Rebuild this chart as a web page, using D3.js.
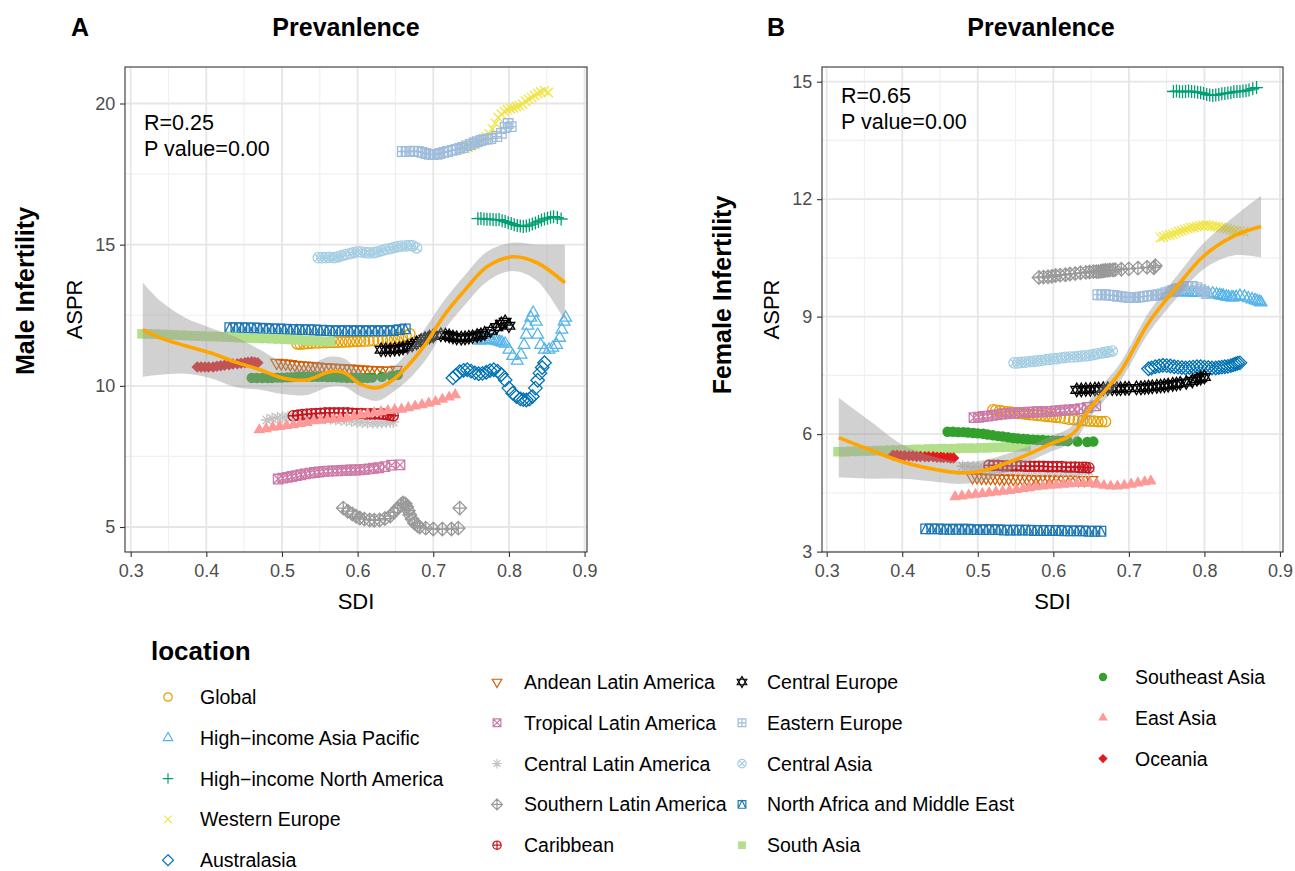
<!DOCTYPE html>
<html>
<head>
<meta charset="utf-8">
<script src="https://cdn.jsdelivr.net/npm/d3@7"></script>
<style>
  body { margin: 0; background: #fff; }
  text { font-family: "Liberation Sans", Arial, Helvetica, sans-serif; }
</style>
</head>
<body>
<svg id="chart" width="1295" height="871"></svg>
<script>
// ---- locations (legend order), colours, point shapes (R pch 1..18)
const locations = ["Global", "High\u2212income Asia Pacific", "High\u2212income North America", "Western Europe", "Australasia",
  "Andean Latin America", "Tropical Latin America", "Central Latin America", "Southern Latin America", "Caribbean",
  "Central Europe", "Eastern Europe", "Central Asia", "North Africa and Middle East", "South Asia",
  "Southeast Asia", "East Asia", "Oceania"];
const locColors = ["#E69F00", "#56B4E9", "#009E73", "#F0E442", "#0072B2",
  "#D55E00", "#CC79A7", "#C4C4C4", "#999999", "#C8141E",
  "#000000", "#9FBCDB", "#A6CEE3", "#1F78B4", "#B2DF8A",
  "#33A02C", "#FB9A99", "#E31A1C"];
const locShapes = [1, 2, 3, 4, 5, 6, 7, 8, 9, 10, 11, 12, 13, 14, 15, 16, 17, 18];

// ---- per location: SDI, male ASPR, female ASPR (one value per year)
const globalSDI = [0.520, 0.524, 0.529, 0.534, 0.539, 0.544, 0.549, 0.554, 0.559, 0.564, 0.569, 0.574, 0.579, 0.584, 0.589, 0.594, 0.599, 0.604, 0.609, 0.615, 0.621, 0.627, 0.633, 0.639, 0.644, 0.649, 0.654, 0.659, 0.664, 0.669];
const globalMale = [11.49, 11.48, 11.49, 11.50, 11.51, 11.52, 11.52, 11.53, 11.53, 11.54, 11.54, 11.55, 11.55, 11.56, 11.56, 11.57, 11.57, 11.58, 11.58, 11.59, 11.60, 11.60, 11.61, 11.62, 11.63, 11.66, 11.70, 11.74, 11.78, 11.84];
const globalFemale = [6.62, 6.61, 6.60, 6.58, 6.57, 6.56, 6.54, 6.53, 6.52, 6.51, 6.50, 6.49, 6.48, 6.47, 6.46, 6.45, 6.44, 6.43, 6.42, 6.40, 6.38, 6.37, 6.36, 6.35, 6.34, 6.33, 6.33, 6.32, 6.32, 6.32];

const hiapSDI = [0.762, 0.765, 0.768, 0.771, 0.775, 0.778, 0.782, 0.785, 0.788, 0.791, 0.795, 0.800, 0.805, 0.811, 0.816, 0.820, 0.823, 0.825, 0.829, 0.832, 0.836, 0.838, 0.842, 0.847, 0.853, 0.858, 0.863, 0.867, 0.870, 0.873, 0.875];
const hiapMale = [11.60, 11.62, 11.63, 11.63, 11.63, 11.62, 11.60, 11.58, 11.56, 11.53, 11.49, 11.28, 11.06, 10.89, 11.10, 11.45, 11.81, 12.13, 12.41, 12.59, 12.27, 11.81, 11.45, 11.28, 11.28, 11.35, 11.45, 11.70, 11.99, 12.27, 12.41];
const hiapFemale = [9.62, 9.62, 9.63, 9.63, 9.63, 9.62, 9.62, 9.62, 9.62, 9.61, 9.61, 9.60, 9.60, 9.59, 9.57, 9.55, 9.54, 9.53, 9.51, 9.50, 9.49, 9.49, 9.50, 9.53, 9.51, 9.47, 9.44, 9.42, 9.40, 9.38, 9.36];

const hinaSDI = [0.759, 0.763, 0.767, 0.771, 0.775, 0.779, 0.783, 0.787, 0.791, 0.795, 0.799, 0.803, 0.807, 0.811, 0.815, 0.819, 0.823, 0.827, 0.831, 0.835, 0.839, 0.843, 0.847, 0.851, 0.855, 0.859, 0.864, 0.869];
const hinaMale = [15.92, 15.93, 15.91, 15.90, 15.90, 15.89, 15.88, 15.89, 15.85, 15.82, 15.78, 15.75, 15.71, 15.68, 15.66, 15.64, 15.66, 15.69, 15.73, 15.77, 15.82, 15.87, 15.91, 15.94, 15.97, 15.99, 15.96, 15.91];
const hinaFemale = [14.75, 14.76, 14.75, 14.74, 14.75, 14.76, 14.75, 14.74, 14.73, 14.72, 14.70, 14.67, 14.66, 14.65, 14.66, 14.67, 14.69, 14.70, 14.71, 14.72, 14.74, 14.75, 14.75, 14.76, 14.77, 14.79, 14.82, 14.85];

const weSDI = [0.742, 0.746, 0.750, 0.754, 0.758, 0.762, 0.766, 0.770, 0.774, 0.778, 0.782, 0.786, 0.790, 0.794, 0.798, 0.802, 0.806, 0.810, 0.814, 0.818, 0.822, 0.826, 0.830, 0.834, 0.838, 0.842, 0.847, 0.852];
const weMale = [18.40, 18.45, 18.50, 18.55, 18.61, 18.66, 18.73, 18.82, 18.93, 19.10, 19.30, 19.50, 19.62, 19.72, 19.78, 19.82, 19.85, 19.89, 19.92, 19.98, 20.08, 20.15, 20.21, 20.28, 20.35, 20.41, 20.46, 20.39];
const weFemale = [11.02, 11.04, 11.07, 11.09, 11.11, 11.14, 11.17, 11.19, 11.22, 11.25, 11.27, 11.28, 11.30, 11.32, 11.33, 11.34, 11.33, 11.31, 11.30, 11.29, 11.28, 11.26, 11.24, 11.22, 11.20, 11.19, 11.18, 11.17];

const ausSDI = [0.726, 0.730, 0.735, 0.740, 0.745, 0.750, 0.755, 0.760, 0.765, 0.770, 0.775, 0.780, 0.785, 0.790, 0.795, 0.800, 0.805, 0.810, 0.815, 0.819, 0.823, 0.827, 0.831, 0.835, 0.838, 0.841, 0.844, 0.847];
const ausMale = [10.28, 10.38, 10.50, 10.55, 10.57, 10.52, 10.46, 10.43, 10.44, 10.48, 10.54, 10.57, 10.52, 10.40, 10.21, 9.92, 9.74, 9.62, 9.54, 9.51, 9.50, 9.53, 9.62, 9.92, 10.20, 10.45, 10.65, 10.82];
const ausFemale = [7.67, 7.69, 7.72, 7.74, 7.76, 7.75, 7.74, 7.72, 7.71, 7.70, 7.69, 7.70, 7.71, 7.72, 7.72, 7.71, 7.70, 7.69, 7.69, 7.70, 7.71, 7.72, 7.73, 7.75, 7.77, 7.79, 7.81, 7.82];

const andeanSDI = [0.493, 0.499, 0.505, 0.511, 0.517, 0.523, 0.529, 0.535, 0.541, 0.547, 0.553, 0.559, 0.565, 0.571, 0.577, 0.583, 0.589, 0.595, 0.601, 0.607, 0.613, 0.619, 0.626, 0.633, 0.641, 0.651];
const andeanMale = [10.82, 10.80, 10.79, 10.77, 10.75, 10.73, 10.72, 10.71, 10.70, 10.68, 10.67, 10.66, 10.65, 10.64, 10.63, 10.62, 10.61, 10.60, 10.59, 10.58, 10.57, 10.56, 10.55, 10.54, 10.54, 10.57];
const andeanFemale = [4.90, 4.90, 4.89, 4.89, 4.88, 4.88, 4.87, 4.87, 4.87, 4.86, 4.86, 4.86, 4.86, 4.85, 4.85, 4.85, 4.85, 4.85, 4.84, 4.84, 4.84, 4.84, 4.84, 4.83, 4.83, 4.83];

const tropSDI = [0.495, 0.501, 0.507, 0.513, 0.519, 0.525, 0.531, 0.537, 0.543, 0.549, 0.555, 0.561, 0.567, 0.573, 0.579, 0.585, 0.591, 0.597, 0.603, 0.609, 0.615, 0.621, 0.628, 0.636, 0.645, 0.656];
const tropMale = [6.70, 6.73, 6.76, 6.79, 6.82, 6.85, 6.88, 6.91, 6.93, 6.95, 6.97, 6.98, 6.99, 6.99, 7.00, 7.01, 7.02, 7.02, 7.03, 7.04, 7.06, 7.08, 7.10, 7.14, 7.19, 7.20];
const tropFemale = [6.42, 6.43, 6.45, 6.46, 6.48, 6.49, 6.51, 6.52, 6.53, 6.54, 6.55, 6.55, 6.56, 6.56, 6.57, 6.57, 6.58, 6.58, 6.59, 6.60, 6.61, 6.62, 6.63, 6.65, 6.68, 6.72];

const centLaSDI = [0.480, 0.487, 0.494, 0.501, 0.508, 0.515, 0.522, 0.529, 0.536, 0.543, 0.550, 0.557, 0.564, 0.571, 0.578, 0.585, 0.592, 0.599, 0.606, 0.613, 0.620, 0.626, 0.632, 0.638, 0.643, 0.647];
const centLaMale = [8.79, 8.84, 8.87, 8.89, 8.90, 8.90, 8.91, 8.90, 8.90, 8.89, 8.87, 8.85, 8.83, 8.81, 8.79, 8.77, 8.75, 8.73, 8.71, 8.70, 8.69, 8.69, 8.70, 8.71, 8.72, 8.72];
const centLaFemale = [5.18, 5.17, 5.16, 5.15, 5.14, 5.13, 5.12, 5.11, 5.10, 5.10, 5.09, 5.09, 5.08, 5.08, 5.07, 5.07, 5.06, 5.06, 5.06, 5.05, 5.05, 5.05, 5.05, 5.05, 5.05, 5.05];

const southLaSDI = [0.581, 0.587, 0.593, 0.598, 0.603, 0.609, 0.616, 0.622, 0.629, 0.636, 0.643, 0.648, 0.653, 0.657, 0.660, 0.663, 0.665, 0.667, 0.669, 0.672, 0.675, 0.679, 0.682, 0.690, 0.700, 0.712, 0.724, 0.733, 0.735];
const southLaMale = [5.67, 5.56, 5.46, 5.38, 5.32, 5.28, 5.25, 5.24, 5.25, 5.30, 5.39, 5.52, 5.67, 5.78, 5.85, 5.82, 5.71, 5.58, 5.43, 5.28, 5.14, 5.05, 5.00, 4.96, 4.93, 4.93, 4.93, 4.96, 5.67];
const southLaFemale = [10.00, 10.01, 10.02, 10.03, 10.05, 10.06, 10.07, 10.09, 10.10, 10.12, 10.13, 10.14, 10.15, 10.15, 10.15, 10.16, 10.17, 10.17, 10.18, 10.18, 10.19, 10.19, 10.20, 10.21, 10.22, 10.24, 10.26, 10.25, 10.30];

const caribSDI = [0.515, 0.521, 0.527, 0.533, 0.539, 0.545, 0.551, 0.557, 0.563, 0.569, 0.575, 0.581, 0.587, 0.593, 0.599, 0.605, 0.611, 0.617, 0.623, 0.629, 0.634, 0.639, 0.643, 0.647];
const caribMale = [8.94, 8.96, 8.98, 9.00, 9.01, 9.02, 9.03, 9.04, 9.04, 9.04, 9.04, 9.04, 9.04, 9.03, 9.02, 9.02, 9.01, 9.01, 9.01, 9.01, 9.00, 8.98, 8.96, 8.94];
const caribFemale = [5.20, 5.20, 5.20, 5.19, 5.19, 5.19, 5.19, 5.19, 5.18, 5.18, 5.18, 5.18, 5.18, 5.17, 5.17, 5.17, 5.17, 5.16, 5.16, 5.16, 5.15, 5.15, 5.15, 5.14];

const cenEuSDI = [0.631, 0.637, 0.643, 0.649, 0.655, 0.660, 0.666, 0.672, 0.678, 0.684, 0.689, 0.695, 0.700, 0.710, 0.716, 0.721, 0.726, 0.731, 0.737, 0.742, 0.747, 0.752, 0.758, 0.763, 0.768, 0.776, 0.784, 0.790, 0.795, 0.800];
const cenEuMale = [11.28, 11.28, 11.28, 11.30, 11.31, 11.34, 11.38, 11.45, 11.52, 11.60, 11.67, 11.73, 11.77, 11.81, 11.80, 11.77, 11.73, 11.70, 11.69, 11.70, 11.72, 11.74, 11.78, 11.81, 11.86, 11.95, 12.08, 12.20, 12.27, 12.13];
const cenEuFemale = [7.13, 7.13, 7.14, 7.14, 7.15, 7.15, 7.16, 7.16, 7.16, 7.16, 7.16, 7.17, 7.17, 7.18, 7.18, 7.19, 7.20, 7.21, 7.22, 7.23, 7.24, 7.25, 7.27, 7.28, 7.30, 7.32, 7.36, 7.40, 7.43, 7.46];

const eastEuSDI = [0.659, 0.664, 0.669, 0.674, 0.680, 0.685, 0.690, 0.695, 0.700, 0.705, 0.709, 0.714, 0.719, 0.725, 0.730, 0.735, 0.739, 0.744, 0.749, 0.754, 0.758, 0.763, 0.767, 0.772, 0.776, 0.784, 0.790, 0.795, 0.799, 0.803];
const eastEuMale = [18.30, 18.30, 18.30, 18.31, 18.30, 18.27, 18.23, 18.20, 18.19, 18.20, 18.23, 18.27, 18.30, 18.34, 18.37, 18.41, 18.44, 18.50, 18.55, 18.60, 18.65, 18.69, 18.72, 18.74, 18.76, 18.83, 18.94, 19.15, 19.29, 19.18];
const eastEuFemale = [9.56, 9.56, 9.56, 9.55, 9.54, 9.52, 9.51, 9.50, 9.49, 9.49, 9.49, 9.50, 9.51, 9.53, 9.54, 9.55, 9.56, 9.58, 9.61, 9.64, 9.67, 9.70, 9.72, 9.75, 9.77, 9.77, 9.74, 9.69, 9.64, 9.59];

const cenAsSDI = [0.548, 0.553, 0.558, 0.563, 0.569, 0.574, 0.579, 0.584, 0.590, 0.595, 0.600, 0.605, 0.611, 0.616, 0.622, 0.627, 0.632, 0.637, 0.643, 0.648, 0.653, 0.658, 0.664, 0.669, 0.673, 0.678];
const cenAsMale = [14.54, 14.54, 14.54, 14.55, 14.54, 14.57, 14.61, 14.65, 14.68, 14.72, 14.75, 14.74, 14.72, 14.71, 14.72, 14.75, 14.79, 14.83, 14.86, 14.90, 14.93, 14.95, 14.96, 14.97, 14.96, 14.89];
const cenAsFemale = [7.82, 7.82, 7.83, 7.84, 7.85, 7.86, 7.87, 7.88, 7.90, 7.91, 7.92, 7.93, 7.95, 7.96, 7.97, 7.97, 7.98, 7.99, 8.00, 8.01, 8.03, 8.05, 8.07, 8.09, 8.10, 8.12];

const nameSDI = [0.431, 0.439, 0.447, 0.455, 0.463, 0.471, 0.479, 0.487, 0.495, 0.503, 0.511, 0.519, 0.527, 0.535, 0.543, 0.551, 0.559, 0.567, 0.575, 0.583, 0.591, 0.599, 0.607, 0.615, 0.623, 0.631, 0.639, 0.647, 0.655, 0.663];
const nameMale = [12.06, 12.06, 12.06, 12.05, 12.05, 12.04, 12.03, 12.02, 12.02, 12.01, 12.00, 12.00, 11.99, 11.99, 11.98, 11.97, 11.96, 11.95, 11.95, 11.95, 11.95, 11.95, 11.95, 11.95, 11.95, 11.95, 11.95, 11.96, 11.99, 12.02];
const nameFemale = [3.58, 3.58, 3.58, 3.57, 3.57, 3.57, 3.57, 3.57, 3.56, 3.56, 3.56, 3.56, 3.56, 3.55, 3.55, 3.55, 3.55, 3.55, 3.54, 3.54, 3.54, 3.54, 3.54, 3.53, 3.53, 3.53, 3.53, 3.52, 3.52, 3.52];

const sAsSDI = [0.315, 0.324, 0.332, 0.341, 0.349, 0.358, 0.367, 0.375, 0.384, 0.392, 0.401, 0.409, 0.418, 0.426, 0.435, 0.443, 0.452, 0.461, 0.470, 0.478, 0.487, 0.495, 0.504, 0.512, 0.521, 0.530, 0.538, 0.546, 0.553, 0.564];
const sAsMale = [11.84, 11.84, 11.83, 11.82, 11.81, 11.80, 11.79, 11.78, 11.77, 11.76, 11.75, 11.75, 11.74, 11.73, 11.72, 11.71, 11.70, 11.69, 11.68, 11.68, 11.67, 11.66, 11.65, 11.64, 11.63, 11.62, 11.60, 11.59, 11.58, 11.56];
const sAsFemale = [5.55, 5.55, 5.56, 5.56, 5.57, 5.57, 5.58, 5.58, 5.59, 5.59, 5.60, 5.60, 5.61, 5.61, 5.62, 5.62, 5.63, 5.63, 5.63, 5.64, 5.64, 5.64, 5.65, 5.65, 5.66, 5.66, 5.67, 5.67, 5.68, 5.68];

const seAsSDI = [0.460, 0.467, 0.474, 0.481, 0.487, 0.494, 0.500, 0.507, 0.513, 0.520, 0.527, 0.533, 0.540, 0.547, 0.553, 0.560, 0.566, 0.573, 0.579, 0.586, 0.593, 0.599, 0.606, 0.613, 0.619, 0.632, 0.645, 0.653];
const seAsMale = [10.28, 10.28, 10.28, 10.28, 10.28, 10.29, 10.29, 10.30, 10.31, 10.32, 10.32, 10.32, 10.32, 10.32, 10.32, 10.31, 10.31, 10.30, 10.29, 10.28, 10.28, 10.28, 10.28, 10.28, 10.29, 10.32, 10.35, 10.39];
const seAsFemale = [6.06, 6.06, 6.05, 6.05, 6.04, 6.03, 6.02, 6.01, 5.99, 5.97, 5.95, 5.94, 5.92, 5.90, 5.89, 5.88, 5.87, 5.86, 5.85, 5.85, 5.84, 5.84, 5.83, 5.83, 5.82, 5.81, 5.80, 5.81];

const eAsSDI = [0.470, 0.479, 0.488, 0.497, 0.506, 0.515, 0.524, 0.533, 0.542, 0.551, 0.560, 0.568, 0.577, 0.586, 0.595, 0.604, 0.613, 0.622, 0.631, 0.640, 0.649, 0.658, 0.667, 0.676, 0.685, 0.694, 0.703, 0.712, 0.721, 0.729];
const eAsMale = [8.44, 8.48, 8.53, 8.56, 8.59, 8.62, 8.66, 8.70, 8.76, 8.78, 8.80, 8.82, 8.84, 8.87, 8.91, 8.96, 9.00, 9.04, 9.08, 9.12, 9.15, 9.17, 9.22, 9.28, 9.33, 9.38, 9.44, 9.52, 9.60, 9.68];
const eAsFemale = [4.40, 4.42, 4.44, 4.46, 4.48, 4.50, 4.52, 4.54, 4.56, 4.58, 4.61, 4.63, 4.65, 4.67, 4.69, 4.70, 4.72, 4.73, 4.74, 4.74, 4.74, 4.72, 4.69, 4.67, 4.67, 4.69, 4.72, 4.75, 4.78, 4.80];

const oceSDI = [0.388, 0.393, 0.398, 0.403, 0.409, 0.414, 0.419, 0.424, 0.430, 0.435, 0.441, 0.446, 0.451, 0.455, 0.460, 0.464, 0.468];
const oceMale = [10.67, 10.67, 10.67, 10.67, 10.67, 10.69, 10.71, 10.73, 10.75, 10.77, 10.78, 10.80, 10.82, 10.84, 10.85, 10.84, 10.82];
const oceFemale = [5.46, 5.46, 5.45, 5.45, 5.44, 5.44, 5.43, 5.43, 5.42, 5.42, 5.42, 5.41, 5.41, 5.40, 5.40, 5.39, 5.39];

// ---- loess fits with 95% band
const smoothMaleSDI = [0.316, 0.339, 0.372, 0.405, 0.438, 0.471, 0.501, 0.533, 0.563, 0.583, 0.603, 0.626, 0.645, 0.665, 0.689, 0.715, 0.742, 0.771, 0.805, 0.837, 0.874];
const smoothMaleFit = [11.99, 11.70, 11.42, 11.17, 10.85, 10.57, 10.28, 10.21, 10.50, 10.46, 10.07, 9.93, 10.18, 10.67, 11.45, 12.52, 13.40, 14.22, 14.57, 14.36, 13.65];
const smoothMaleHi = [13.66, 13.01, 12.41, 12.06, 11.74, 11.28, 10.85, 10.74, 11.03, 10.96, 10.50, 10.39, 10.61, 11.17, 12.02, 13.05, 13.93, 14.75, 15.07, 15.00, 15.00];
const smoothMaleLo = [10.32, 10.39, 10.43, 10.28, 9.96, 9.86, 9.71, 9.68, 9.97, 9.96, 9.64, 9.47, 9.75, 10.17, 10.88, 11.99, 12.87, 13.69, 14.07, 13.72, 12.30];

const smoothFemaleSDI = [0.316, 0.357, 0.401, 0.446, 0.480, 0.512, 0.539, 0.565, 0.600, 0.618, 0.631, 0.644, 0.658, 0.688, 0.727, 0.764, 0.798, 0.838, 0.875];
const smoothFemaleFit = [5.91, 5.60, 5.29, 5.09, 5.01, 5.09, 5.27, 5.47, 5.78, 5.91, 6.11, 6.54, 6.88, 7.57, 8.87, 9.77, 10.53, 11.05, 11.30];
const smoothFemaleHi = [6.93, 6.34, 5.72, 5.40, 5.29, 5.35, 5.50, 5.67, 5.98, 6.11, 6.34, 6.77, 7.11, 7.80, 9.13, 10.05, 10.86, 11.54, 12.09];
const smoothFemaleLo = [4.89, 4.86, 4.86, 4.78, 4.73, 4.83, 5.04, 5.27, 5.58, 5.71, 5.88, 6.31, 6.65, 7.34, 8.61, 9.49, 10.20, 10.56, 10.51];

// ---- axis ticks
const xTicks = [0.3, 0.4, 0.5, 0.6, 0.7, 0.8, 0.9];
const xMinor = [0.35, 0.45, 0.55, 0.65, 0.75, 0.85];
const maleTicks = [5, 10, 15, 20];
const maleMinor = [7.5, 12.5, 17.5];
const femaleTicks = [3, 6, 9, 12, 15];
const femaleMinor = [4.5, 7.5, 10.5, 13.5];

const sdiList = [globalSDI, hiapSDI, hinaSDI, weSDI, ausSDI, andeanSDI, tropSDI, centLaSDI, southLaSDI, caribSDI,
  cenEuSDI, eastEuSDI, cenAsSDI, nameSDI, sAsSDI, seAsSDI, eAsSDI, oceSDI];
const maleList = [globalMale, hiapMale, hinaMale, weMale, ausMale, andeanMale, tropMale, centLaMale, southLaMale, caribMale,
  cenEuMale, eastEuMale, cenAsMale, nameMale, sAsMale, seAsMale, eAsMale, oceMale];
const femaleList = [globalFemale, hiapFemale, hinaFemale, weFemale, ausFemale, andeanFemale, tropFemale, centLaFemale, southLaFemale, caribFemale,
  cenEuFemale, eastEuFemale, cenAsFemale, nameFemale, sAsFemale, seAsFemale, eAsFemale, oceFemale];

const series = locations.map((name, i) => ({
  name, color: locColors[i], shape: locShapes[i],
  points: sdiList[i].map((s, j) => ({ sdi: s, male: maleList[i][j], female: femaleList[i][j] }))
}));

// ---- R-like point shapes as svg paths
function shapePath(shape, r) {
  const circ = rr => `M${rr},0A${rr},${rr} 0 1,1 ${-rr},0A${rr},${rr} 0 1,1 ${rr},0Z`;
  const t = r * 1.3;
  const triUp = `M0,${-t}L${t * 0.866},${t * 0.5}L${-t * 0.866},${t * 0.5}Z`;
  const triDn = `M0,${t}L${t * 0.866},${-t * 0.5}L${-t * 0.866},${-t * 0.5}Z`;
  const q = r * 0.92;
  const sq = `M${-q},${-q}H${q}V${q}H${-q}Z`;
  const d = r * 1.3;
  const dia = `M0,${-d}L${d},0L0,${d}L${-d},0Z`;
  const plus = a => `M${-a},0H${a}M0,${-a}V${a}`;
  const cross = a => `M${-a},${-a}L${a},${a}M${-a},${a}L${a},${-a}`;
  switch (shape) {
    case 1: return circ(r);
    case 2: return triUp;
    case 3: return plus(r * 1.25);
    case 4: return cross(r * 0.9);
    case 5: return dia;
    case 6: return triDn;
    case 7: return sq + cross(q);
    case 8: return plus(r * 1.15) + cross(r * 0.82);
    case 9: return dia + plus(d);
    case 10: return circ(r) + plus(r);
    case 11: return triUp + triDn;
    case 12: return sq + plus(q);
    case 13: return circ(r) + cross(r * 0.707);
    case 14: return sq + `M${-q},${q}L0,${-q}L${q},${q}`;
    case 15: return sq;
    case 16: return circ(r);
    case 17: return triUp;
    case 18: return `M0,${-d * 0.85}L${d * 0.85},0L0,${d * 0.85}L${-d * 0.85},0Z`;
  }
}
const isFilled = s => s >= 15;

const svg = d3.select('#chart');
svg.append('rect').attr('width', 1295).attr('height', 871).attr('fill', '#fff');

function drawPanel(o) {
  const x = d3.scaleLinear().domain(o.xDomain).range([o.left, o.right]);
  const y = d3.scaleLinear().domain(o.yDomain).range([o.bottom, o.top]);
  const g = svg.append('g');

  // grid
  g.selectAll('.gxm').data(xMinor).enter().append('line')
    .attr('x1', d => x(d)).attr('x2', d => x(d)).attr('y1', o.top).attr('y2', o.bottom)
    .attr('stroke', '#F0F0F0').attr('stroke-width', 1.2);
  g.selectAll('.gym').data(o.yMinor).enter().append('line')
    .attr('y1', d => y(d)).attr('y2', d => y(d)).attr('x1', o.left).attr('x2', o.right)
    .attr('stroke', '#F0F0F0').attr('stroke-width', 1.2);
  g.selectAll('.gx').data(xTicks).enter().append('line')
    .attr('x1', d => x(d)).attr('x2', d => x(d)).attr('y1', o.top).attr('y2', o.bottom)
    .attr('stroke', '#E6E6E6').attr('stroke-width', 1.8);
  g.selectAll('.gy').data(o.yTicks).enter().append('line')
    .attr('y1', d => y(d)).attr('y2', d => y(d)).attr('x1', o.left).attr('x2', o.right)
    .attr('stroke', '#E6E6E6').attr('stroke-width', 1.8);

  // points
  series.forEach(s => {
    g.append('g').selectAll('path').data(s.points).enter().append('path')
      .attr('transform', d => `translate(${x(d.sdi)},${y(d[o.key])})`)
      .attr('d', shapePath(s.shape, 5.2))
      .attr('fill', isFilled(s.shape) ? s.color : 'none')
      .attr('stroke', isFilled(s.shape) ? 'none' : s.color)
      .attr('stroke-width', 1.3);
  });

  // smooth band + line
  const sm = o.smSDI.map((s, i) => ({ sdi: s, fit: o.smFit[i], lo: o.smLo[i], hi: o.smHi[i] }));
  g.append('path').datum(sm)
    .attr('d', d3.area().x(d => x(d.sdi)).y0(d => y(d.lo)).y1(d => y(d.hi)).curve(d3.curveCatmullRom))
    .attr('fill', '#999999').attr('fill-opacity', 0.45);
  g.append('path').datum(sm)
    .attr('d', d3.line().x(d => x(d.sdi)).y(d => y(d.fit)).curve(d3.curveCatmullRom))
    .attr('fill', 'none').attr('stroke', '#FFA500').attr('stroke-width', 3.6);

  // frame
  g.append('rect').attr('x', o.left).attr('y', o.top)
    .attr('width', o.right - o.left).attr('height', o.bottom - o.top)
    .attr('fill', 'none').attr('stroke', '#333').attr('stroke-width', 1.1);

  // axes
  const ax = g.append('g').attr('transform', `translate(0,${o.bottom})`)
    .call(d3.axisBottom(x).tickValues(xTicks).tickSize(5).tickSizeOuter(0).tickFormat(d3.format('.1f')));
  const ay = g.append('g').attr('transform', `translate(${o.left},0)`)
    .call(d3.axisLeft(y).tickValues(o.yTicks).tickSize(5).tickSizeOuter(0));
  [ax, ay].forEach(a => {
    a.select('.domain').remove();
    a.selectAll('line').attr('stroke', '#333').attr('stroke-width', 1.1);
    a.selectAll('text').attr('fill', '#4D4D4D').style('font-size', '18px');
  });
  ax.selectAll('text').attr('dy', '0.95em');
  ay.selectAll('text').attr('dx', '-0.1em');

  // texts
  const cx = (o.left + o.right) / 2;
  g.append('text').attr('x', cx).attr('y', 609).attr('text-anchor', 'middle')
    .style('font-size', '22px').text('SDI');
  g.append('text').attr('transform', `translate(${o.left - 43},${(o.top + o.bottom) / 2}) rotate(-90)`)
    .attr('text-anchor', 'middle').style('font-size', '22px').text('ASPR');
  g.append('text').attr('transform', `translate(${o.ylabX},${o.ylabY}) rotate(-90)`)
    .attr('text-anchor', 'middle').style('font-size', '25px').style('font-weight', 'bold').text(o.ylab);
  g.append('text').attr('x', o.titleX).attr('y', 36).attr('text-anchor', 'middle')
    .style('font-size', '25px').style('font-weight', 'bold').text('Prevanlence');
  g.append('text').attr('x', o.letterX).attr('y', 36).attr('text-anchor', 'middle')
    .style('font-size', '25px').style('font-weight', 'bold').text(o.letter);
  g.append('text').attr('x', o.left + 19).attr('y', o.rY).style('font-size', '21.5px').text(o.rText);
  g.append('text').attr('x', o.left + 19).attr('y', o.rY + 26).style('font-size', '21.5px').text('P value=0.00');
}

drawPanel({
  left: 125, right: 587, top: 67, bottom: 552,
  xDomain: [0.2925, 0.9032], yDomain: [4.115, 21.293],
  yTicks: maleTicks, yMinor: maleMinor, key: 'male',
  smSDI: smoothMaleSDI, smFit: smoothMaleFit, smLo: smoothMaleLo, smHi: smoothMaleHi,
  ylab: 'Male Infertility', ylabX: 34, ylabY: 291,
  titleX: 346, letter: 'A', letterX: 80, rText: 'R=0.25', rY: 130
});
drawPanel({
  left: 822, right: 1283, top: 67, bottom: 552,
  xDomain: [0.2938, 0.904], yDomain: [2.99, 15.375],
  yTicks: femaleTicks, yMinor: femaleMinor, key: 'female',
  smSDI: smoothFemaleSDI, smFit: smoothFemaleFit, smLo: smoothFemaleLo, smHi: smoothFemaleHi,
  ylab: 'Female Infertility', ylabX: 731, ylabY: 295,
  titleX: 1041, letter: 'B', letterX: 776, rText: 'R=0.65', rY: 103
});

// ---- legend
svg.append('text').attr('x', 151).attr('y', 660).style('font-size', '26px').style('font-weight', 'bold').text('location');
const legendCols = [
  { sx: 168, tx: 200, y0: 697, from: 0, to: 5 },
  { sx: 497, tx: 524, y0: 682, from: 5, to: 10 },
  { sx: 742, tx: 767, y0: 682, from: 10, to: 15 },
  { sx: 1103, tx: 1135, y0: 677, from: 15, to: 18 }
];
legendCols.forEach(c => {
  const items = series.slice(c.from, c.to);
  const lg = svg.append('g');
  lg.selectAll('path').data(items).enter().append('path')
    .attr('transform', (d, i) => `translate(${c.sx},${c.y0 + i * 40.8})`)
    .attr('d', d => shapePath(d.shape, 4.2))
    .attr('fill', d => isFilled(d.shape) ? d.color : 'none')
    .attr('stroke', d => isFilled(d.shape) ? 'none' : d.color)
    .attr('stroke-width', 1.2);
  lg.selectAll('text').data(items).enter().append('text')
    .attr('x', c.tx).attr('y', (d, i) => c.y0 + i * 40.8 + 7)
    .style('font-size', '19.5px').text(d => d.name);
});
</script>
</body>
</html>
